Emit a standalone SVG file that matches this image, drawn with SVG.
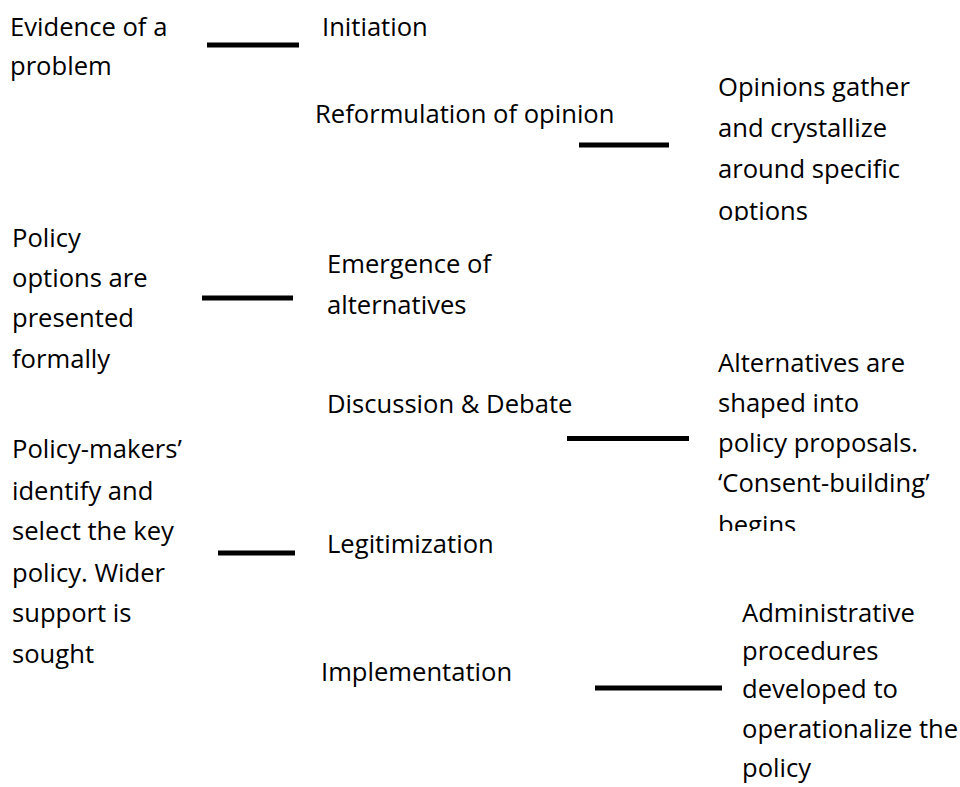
<svg xmlns="http://www.w3.org/2000/svg" width="960" height="787" viewBox="0 0 960 787">
<style>
  text { font-family: "Open Sans", "Noto Sans", "Liberation Sans", sans-serif; font-size: 25.6px; fill: #000; }
  .bar { stroke: #000; stroke-width: 5; fill: none; }
</style>
<defs>
  <clipPath id="clipOpinions"><rect x="700" y="60" width="260" height="161"/></clipPath>
  <clipPath id="clipAlternatives"><rect x="700" y="340" width="260" height="191"/></clipPath>
</defs>
<rect width="960" height="787" fill="#fff"/>

<g id="connectors">
  <line class="bar" x1="207" y1="45" x2="299" y2="45"/>
  <line class="bar" x1="579" y1="145" x2="669" y2="145"/>
  <line class="bar" x1="202" y1="298" x2="293" y2="298"/>
  <line class="bar" x1="567" y1="438.5" x2="689" y2="438.5"/>
  <line class="bar" x1="218" y1="553" x2="295" y2="553"/>
  <line class="bar" x1="595" y1="688" x2="722" y2="688"/>
</g>

<g id="evidence">
  <text x="10" y="36">Evidence of a</text>
  <text x="10" y="75">problem</text>
</g>
<g id="initiation">
  <text x="322" y="36">Initiation</text>
</g>
<g id="reformulation">
  <text x="315" y="123">Reformulation of opinion</text>
</g>
<g id="opinions" clip-path="url(#clipOpinions)">
  <text x="718" y="96">Opinions gather</text>
  <text x="718" y="137">and crystallize</text>
  <text x="718" y="178">around specific</text>
  <text x="718" y="220">options</text>
</g>
<g id="policy-options">
  <text x="12" y="247">Policy</text>
  <text x="12" y="287">options are</text>
  <text x="12" y="327">presented</text>
  <text x="12" y="368">formally</text>
</g>
<g id="emergence">
  <text x="327" y="273">Emergence of</text>
  <text x="327" y="314">alternatives</text>
</g>
<g id="discussion">
  <text x="327" y="413">Discussion &amp; Debate</text>
</g>
<g id="alternatives" clip-path="url(#clipAlternatives)">
  <text x="718" y="372">Alternatives are</text>
  <text x="718" y="412">shaped into</text>
  <text x="718" y="452">policy proposals.</text>
  <text x="718" y="492">‘Consent-building’</text>
  <text x="718" y="534">begins</text>
</g>
<g id="policy-makers">
  <text x="12" y="458">Policy-makers’</text>
  <text x="12" y="500">identify and</text>
  <text x="12" y="540">select the key</text>
  <text x="12" y="582">policy. Wider</text>
  <text x="12" y="622">support is</text>
  <text x="12" y="663">sought</text>
</g>
<g id="legitimization">
  <text x="327" y="553">Legitimization</text>
</g>
<g id="implementation">
  <text x="321" y="681">Implementation</text>
</g>
<g id="administrative">
  <text x="742" y="622">Administrative</text>
  <text x="742" y="660">procedures</text>
  <text x="742" y="698">developed to</text>
  <text x="742" y="738">operationalize the</text>
  <text x="742" y="777">policy</text>
</g>
</svg>
